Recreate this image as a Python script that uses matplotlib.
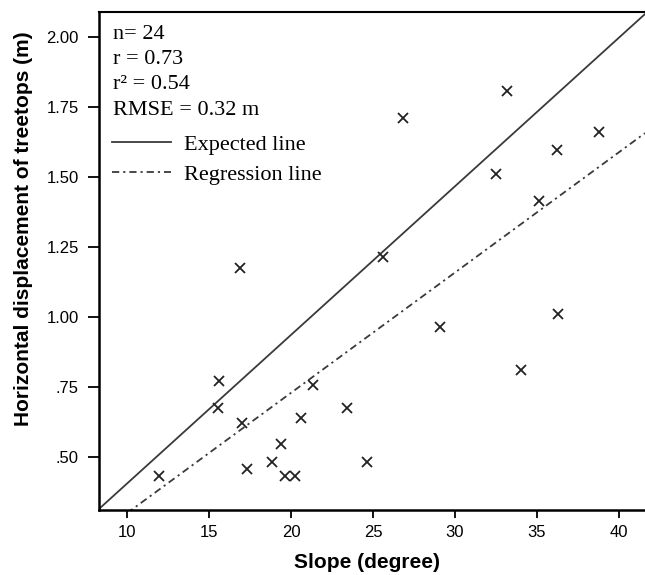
import numpy as np
import matplotlib
matplotlib.use("Agg")
import matplotlib.pyplot as plt
from matplotlib.lines import Line2D

# slope (degree) vs horizontal displacement of treetops (m)
slope = [11.9, 15.6, 15.5, 17.0, 17.3, 18.8, 19.4, 19.6, 20.2, 20.6, 21.3, 23.4,
         24.6, 29.1, 34.0, 36.3, 26.8, 33.2, 32.5, 36.2, 38.8, 35.1, 25.6, 16.9]
disp = [0.43, 0.77, 0.675, 0.62, 0.455, 0.48, 0.545, 0.43, 0.43, 0.64, 0.755, 0.675,
        0.48, 0.965, 0.81, 1.01, 1.71, 1.805, 1.51, 1.595, 1.66, 1.415, 1.215, 1.175]

# line coefficients (intercept, slope)
expected = (-0.124, 0.0530)
regression = (-0.129, 0.0429)

stats = ["n= 24", "r = 0.73", "r\u00b2 = 0.54", "RMSE = 0.32 m"]
legend_labels = ["Expected line", "Regression line"]

xticks = [10, 15, 20, 25, 30, 35, 40]
yticks = [0.50, 0.75, 1.00, 1.25, 1.50, 1.75, 2.00]
ytick_labels = [".50", ".75", "1.00", "1.25", "1.50", "1.75", "2.00"]

xlim = (8.25, 41.6)
ylim = (0.31, 2.088)

plt.rcParams["font.family"] = ["Liberation Sans", "DejaVu Sans"]

fig = plt.figure(figsize=(6.45, 5.75), dpi=100)
ax = fig.add_axes([0.1532, 0.1130, 0.8468, 0.8661])

xs = np.array(xlim)
line_col = "#3a3a3a"
dashdot = (0, (4, 2.2, 1.2, 2.2))
ax.plot(xs, expected[0] + expected[1] * xs, color=line_col, lw=1.3)
ax.plot(xs, regression[0] + regression[1] * xs, color=line_col, lw=1.3,
        linestyle=dashdot)
ax.plot(slope, disp, "x", color="#222222", ms=7, mew=1.3)

ax.set_xlim(xlim)
ax.set_ylim(ylim)
ax.set_xticks(xticks)
ax.set_yticks(yticks)
ax.set_yticklabels(ytick_labels)
ax.tick_params(axis="y", direction="out", length=8, width=1.3, pad=6.5, labelsize=12)
ax.tick_params(axis="x", direction="out", length=6, width=1.3, pad=5, labelsize=12)

ax.spines["right"].set_visible(False)
ax.spines["left"].set_linewidth(1.8)
ax.spines["bottom"].set_linewidth(1.8)
ax.spines["top"].set_linewidth(1.5)

ax.set_xlabel("Slope (degree)", fontsize=15, fontweight="bold", va="center")
ax.xaxis.set_label_coords(0.491, -0.106)
ax.set_ylabel("Horizontal displacement of treetops (m)", fontsize=15,
              fontweight="bold", va="center")
ax.yaxis.set_label_coords(-0.137, 0.564)

# stats block
ys = [0.955, 0.905, 0.855, 0.802]
for s, y in zip(stats, ys):
    ax.text(0.0262, y, s, transform=ax.transAxes, ha="left", va="center",
            fontsize=16, family="Liberation Serif")

handles = [Line2D([], [], color=line_col, lw=1.3),
           Line2D([], [], color=line_col, lw=1.3, linestyle=dashdot)]
ax.legend(handles, legend_labels, loc="upper left", bbox_to_anchor=(0.0236, 0.755),
          frameon=False, borderpad=0, borderaxespad=0, handlelength=2.67,
          handletextpad=0.6, labelspacing=0.44,
          prop={"family": "Liberation Serif", "size": 16})

fig.savefig("out.png", dpi=100)
